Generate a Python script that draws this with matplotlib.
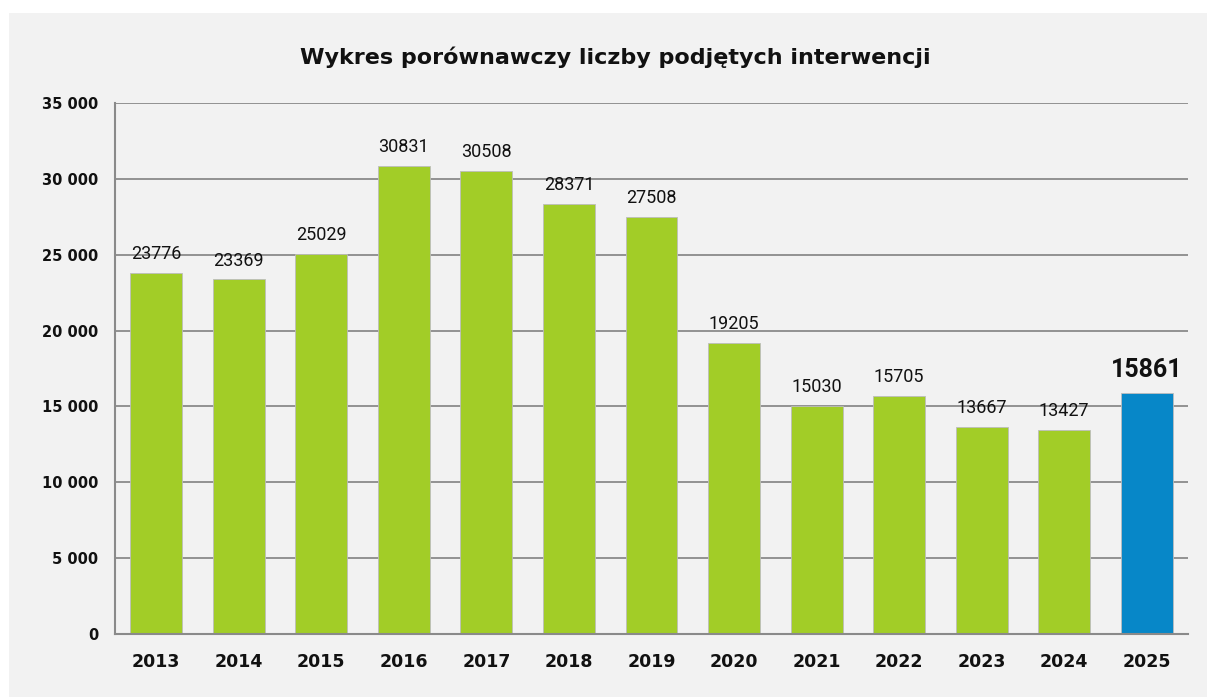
import matplotlib
matplotlib.use("Agg")
import matplotlib.pyplot as plt
from matplotlib.patches import Rectangle
from matplotlib.ticker import FuncFormatter

years = ["2013", "2014", "2015", "2016", "2017", "2018", "2019",
         "2020", "2021", "2022", "2023", "2024", "2025"]
values = [23776, 23369, 25029, 30831, 30508, 28371, 27508,
          19205, 15030, 15705, 13667, 13427, 15861]
title = "Wykres porównawczy liczby podjętych interwencji"

GREEN = "#a2cd27"
BLUE = "#0787c8"
GRID = "#8a8a8a"

fig = plt.figure(figsize=(12.07, 6.97), dpi=100)
fig.patch.set_facecolor("white")
fig.patches.append(Rectangle((9 / 1207, 0), 1 - 9 / 1207, 1 - 13 / 697,
                             transform=fig.transFigure, facecolor="#f2f2f2",
                             edgecolor="none", zorder=-10))

ax = fig.add_axes([115 / 1207, 1 - 634 / 697, (1188 - 115) / 1207, (634 - 103) / 697])
ax.set_zorder(1)
ax.set_facecolor("none")

colors = [GREEN] * (len(years) - 1) + [BLUE]
x = list(range(len(years)))
bars = ax.bar(x, values, width=0.63, color=colors, edgecolor="#bdbdbd",
              linewidth=0.6, zorder=3)

ax.set_xlim(-0.5, len(years) - 0.5)
ax.set_ylim(0, 35000)
ax.set_yticks(range(0, 35001, 5000))
ax.yaxis.set_major_formatter(FuncFormatter(lambda v, p: f"{int(v):,}".replace(",", " ")))
ax.set_xticks(x)
ax.set_xticklabels(years)

ax.grid(axis="y", color=GRID, linewidth=1.3, zorder=1)
ax.set_axisbelow(True)
for s in ["top", "right"]:
    ax.spines[s].set_visible(False)
for s in ["left", "bottom"]:
    ax.spines[s].set_color(GRID)
    ax.spines[s].set_linewidth(1.5)
    ax.spines[s].set_zorder(4)

ax.tick_params(axis="y", length=0, pad=12, labelsize=10.5, labelcolor="#111111")
ax.tick_params(axis="x", length=0, pad=14, labelsize=12.5, labelcolor="#111111")
for t in ax.get_yticklabels():
    t.set_fontweight("bold")
for t in ax.get_xticklabels():
    t.set_fontweight("bold")

for i, (xi, v) in enumerate(zip(x, values)):
    last = i == len(values) - 1
    ax.annotate(str(v), (xi, v), xytext=(0, 12 if last else 10), textcoords="offset points",
                ha="center", va="baseline",
                fontsize=18 if last else 13,
                fontweight="bold" if last else "normal",
                family="Roboto", color="#111111", zorder=5)

fig.text(0.51, 1 - 57 / 697, title, ha="center", va="center",
         fontsize=16, fontweight="bold", color="#111111")

fig.savefig("out.png", dpi=100, facecolor=fig.get_facecolor())
